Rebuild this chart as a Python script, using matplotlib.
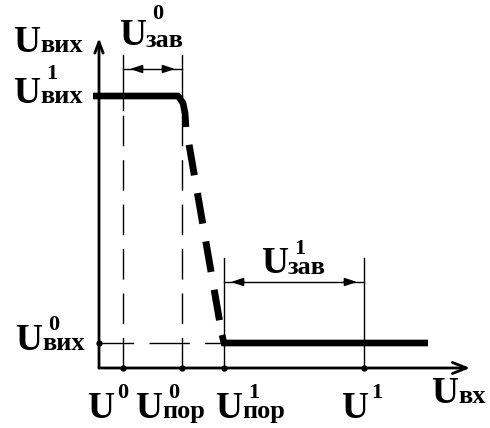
import matplotlib
matplotlib.use("Agg")
import matplotlib.pyplot as plt

# ==================================================================================================================== #
# values in chart units (1 unit = 10 px of the 490x428 figure, origin at the axes crossing)

u_vyh_0 = 2.5           # U^0_вих  (low output level)
u_vyh_1 = 27.2          # U^1_вих  (high output level)

u_in_0 = 2.4            # U^0
u_por_0 = 8.3           # U^0_пор
u_por_1 = 12.5          # U^1_пор
u_in_1 = 26.5           # U^1
u_in_max = 32.9         # end of the drawn characteristic

# transfer characteristic: solid top, dashed steep part, solid bottom
curve_top_x = [-0.6, 7.9, 8.4, 8.6, 8.7]
curve_top_y = [u_vyh_1, u_vyh_1, 26.5, 25.5, 24.1]
curve_mid_x = [8.7, 12.3]
curve_mid_y = [24.1, 3.3]
curve_bot_x = [12.3, u_por_1, u_in_max]
curve_bot_y = [3.3, u_vyh_0, u_vyh_0]

x_axis_end = 37.1
y_axis_end = 33.0
dim_top = 31.3          # top of the extension lines for U^0_зав
dim_arrow_0 = 29.9      # height of the U^0_зав dimension arrow
dim_top_1 = 11.0        # top of the extension lines for U^1_зав
dim_arrow_1 = 8.6       # height of the U^1_зав dimension arrow

# ==================================================================================================================== #

FONT = "Liberation Serif"
big, sub, sup = 27, 19, 16
U_W = 2.7               # width of the big "U" in chart units


def label(ax, x, y, text, size):
    ax.text(x, y, text, fontsize=size, family=FONT, fontweight="bold", ha="left", va="baseline")


def symbol(ax, x, y, index=None, power=None, sub_dy=0.0, sup_dx=0.0, sup_dy=2.2):
    label(ax, x, y, "U", big)
    if index:
        label(ax, x + U_W, y + sub_dy, index, sub)
    if power:
        label(ax, x + U_W + 0.6 + sup_dx, y + sup_dy, power, sup)


def dim_arrow(ax, x0, x1, y):
    ax.plot([x0, x1], [y, y], color="black", lw=1.0)
    style = "-|>,head_length=0.75,head_width=0.25"
    ax.annotate("", xy=(x0 + 0.7, y), xytext=(x0 + 2.0, y),
                arrowprops=dict(arrowstyle=style, lw=1.0, color="black", shrinkA=0, shrinkB=0))
    ax.annotate("", xy=(x1 - 0.7, y), xytext=(x1 - 2.0, y),
                arrowprops=dict(arrowstyle=style, lw=1.0, color="black", shrinkA=0, shrinkB=0))


def main():
    plt.rcParams["lines.scale_dashes"] = False
    fig = plt.figure(figsize=(4.90, 4.28), dpi=100)
    ax = fig.add_axes([0, 0, 1, 1])
    ax.set_xlim(-9.9, 39.1)
    ax.set_ylim(-6.0, 36.8)
    ax.axis("off")

    # axes with arrows
    ax.annotate("", xy=(x_axis_end, 0), xytext=(0, 0),
                arrowprops=dict(arrowstyle="->,head_length=1.0,head_width=0.4", lw=2.0, color="black",
                                shrinkA=0, shrinkB=0))
    ax.annotate("", xy=(0, y_axis_end), xytext=(0, 0),
                arrowprops=dict(arrowstyle="->,head_length=0.8,head_width=0.3", lw=2.0, color="black",
                                shrinkA=0, shrinkB=0))

    # guide lines
    dash = (0, (22, 10))
    ax.plot([u_in_0, u_in_0], [0, 25.8], color="black", lw=1.0, ls=dash)
    ax.plot([u_in_0, u_in_0], [25.8, dim_top], color="black", lw=1.0)
    ax.plot([u_por_0, u_por_0], [0, u_vyh_1], color="black", lw=1.0, ls=dash)
    ax.plot([u_por_0, u_por_0], [u_vyh_1, dim_top], color="black", lw=1.0)
    ax.plot([0, u_por_1], [u_vyh_0, u_vyh_0], color="black", lw=1.0, ls=(4, (29, 11)))
    ax.plot([u_por_1, u_por_1], [0, dim_top_1], color="black", lw=1.0)
    ax.plot([u_in_1, u_in_1], [0, dim_top_1], color="black", lw=1.0)

    dim_arrow(ax, u_in_0, u_por_0, dim_arrow_0)
    dim_arrow(ax, u_por_1, u_in_1, dim_arrow_1)

    # transfer characteristic
    ax.plot(curve_top_x, curve_top_y, color="black", lw=4.8, solid_capstyle="butt", solid_joinstyle="round")
    ax.plot(curve_mid_x, curve_mid_y, color="black", lw=5.0, ls=(22.3, (22.3, 13.0)), dash_capstyle="butt")
    ax.plot(curve_bot_x, curve_bot_y, color="black", lw=4.8, solid_capstyle="butt", solid_joinstyle="miter")

    # dots on the axes
    ax.plot([u_in_0, u_por_0, u_por_1, u_in_1], [0, 0, 0, 0], "o", color="black", ms=3.5)
    ax.plot([0], [u_vyh_0], "o", color="black", ms=3.5)

    # labels
    symbol(ax, -8.6, 31.6, "вих")
    symbol(ax, -8.6, 26.5, "вих", "1", sup_dy=2.4)
    symbol(ax, -8.4, 1.8, "вих", "0", sup_dy=2.0)
    symbol(ax, 2.0, 32.3, "зав", "0", sub_dy=-0.2, sup_dy=2.6)
    symbol(ax, 16.2, 9.5, "зав", "1", sub_dy=-0.1, sup_dy=1.9)

    symbol(ax, -1.2, -5.0, None, "0", sup_dx=-0.3, sup_dy=2.0)
    symbol(ax, 3.6, -5.0, "пор", "0", sup_dy=2.0)
    symbol(ax, 11.6, -5.0, "пор", "1", sup_dy=2.0)
    symbol(ax, 24.2, -5.0, None, "1", sup_dx=-0.3, sup_dy=2.0)
    symbol(ax, 33.2, -3.5, "вх")

    fig.savefig("out.png", dpi=100)


if __name__ == '__main__':
    main()
